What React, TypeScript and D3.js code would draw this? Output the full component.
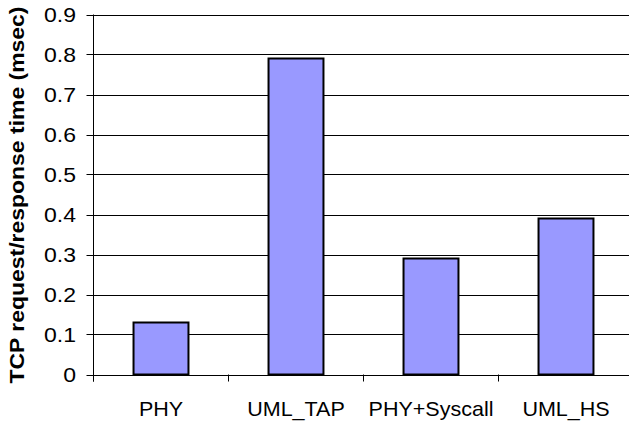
import React from "react";
import * as d3 from "d3";

const categories = ["PHY", "UML_TAP", "PHY+Syscall", "UML_HS"];
const values = [0.13, 0.79, 0.29, 0.39];
const yTicks = [0, 0.1, 0.2, 0.3, 0.4, 0.5, 0.6, 0.7, 0.8, 0.9];
const yLabel = "TCP request/response time (msec)";

const W = 629;
const H = 421;
const left = 93.5;
const step = 135;
const top = 14.5;
const bottom = 374.5;

export default function App() {
  const x = d3
    .scaleBand<string>()
    .domain(categories)
    .range([left, left + step * categories.length])
    .paddingInner(0.593)
    .paddingOuter(0.2965);
  const y = d3.scaleLinear().domain([0, 0.9]).range([bottom, top]);
  const font = "'Liberation Sans', Arial, Helvetica, sans-serif";
  const boundaries = d3.range(categories.length + 1).map((i) => left + i * step);

  return (
    <svg
      width={W}
      height={H}
      style={{ position: "absolute", left: 0, top: 0, display: "block", background: "#fff" }}
    >
      {yTicks.map((t) => (
        <line
          key={"g" + t}
          x1={left - 7}
          x2={left + step * categories.length}
          y1={Math.round(y(t)) + 0.5}
          y2={Math.round(y(t)) + 0.5}
          stroke="#000"
          strokeWidth={1}
        />
      ))}
      <line x1={left} x2={left} y1={top} y2={bottom + 7} stroke="#000" strokeWidth={1} />
      {boundaries.map((b, i) => (
        <line key={"xt" + i} x1={b} x2={b} y1={bottom} y2={bottom + 7} stroke="#000" strokeWidth={1} />
      ))}
      {categories.map((c, i) => (
        <rect
          key={c}
          x={x(c)!}
          y={y(values[i])}
          width={x.bandwidth()}
          height={y(0) - y(values[i])}
          fill="#9999FF"
          stroke="#000"
          strokeWidth={2}
        />
      ))}
      {yTicks.map((t) => (
        <text
          key={"yl" + t}
          transform={`translate(76,${y(t) + 7}) scale(1.18,1)`}
          textAnchor="end"
          fontFamily={font}
          fontSize={19.5}
          fill="#000"
        >
          {t === 0 ? "0" : d3.format(".1f")(t)}
        </text>
      ))}
      {categories.map((c) => (
        <text
          key={"xl" + c}
          transform={`translate(${x(c)! + x.bandwidth() / 2},416) scale(1.05,1)`}
          textAnchor="middle"
          fontFamily={font}
          fontSize={20.5}
          fill="#000"
        >
          {c}
        </text>
      ))}
      <text
        transform={`translate(24,195) rotate(-90) scale(1.12,1)`}
        textAnchor="middle"
        fontFamily={font}
        fontWeight="bold"
        fontSize={20.5}
        fill="#000"
      >
        {yLabel}
      </text>
    </svg>
  );
}
